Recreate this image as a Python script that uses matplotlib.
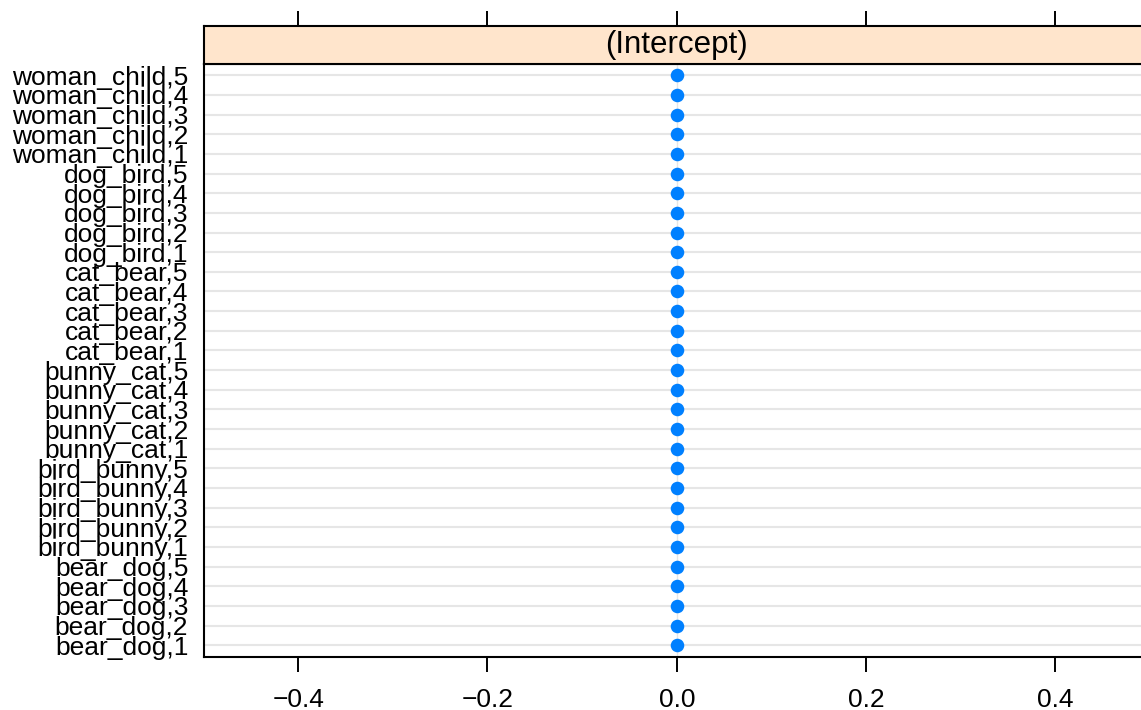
import matplotlib
matplotlib.use("Agg")
import matplotlib.pyplot as plt
from matplotlib.ticker import FuncFormatter

plt.rcParams["font.family"] = ["Liberation Sans", "DejaVu Sans"]

# data: random-effect intercepts, all zero
groups = ["bear_dog", "bird_bunny", "bunny_cat", "cat_bear", "dog_bird", "woman_child"]
levels = [1, 2, 3, 4, 5]
labels = [f"{g},{l}" for g in groups for l in levels]
values = [0.0] * len(labels)
xticks = [-0.4, -0.2, 0.0, 0.2, 0.4]

W, H = 1141, 710
fig = plt.figure(figsize=(W / 100, H / 100), dpi=100)

left, pw = 203.5 / W, 946.5 / W
bot, ph = (H - 657) / H, (657 - 63.5) / H
sh = 37.5 / H

ax = fig.add_axes([left, bot, pw, ph])
ys = list(range(1, len(labels) + 1))
for y in ys:
    ax.axhline(y, color="#e6e6e6", lw=1.5, zorder=1)
ax.axvline(0, color="#e6e6e6", lw=1.0, zorder=1)
ax.scatter(values, ys, s=95, color="#0080ff", zorder=3, linewidths=0)
ax.set_xlim(-0.5, 0.5)
ax.set_ylim(0.4, len(labels) + 0.6)
ax.set_yticks(ys)
ax.set_yticklabels(labels, fontsize=19)
ax.tick_params(axis="y", length=0, pad=11)
ax.set_xticks(xticks)
ax.xaxis.set_major_formatter(FuncFormatter(lambda v, p: f"{v:.1f}".replace("-", "\u2212")))
ax.tick_params(axis="x", length=11, width=1.4, labelsize=19, pad=11)
for s in ax.spines.values():
    s.set_linewidth(1.5)

# strip
sax = fig.add_axes([left, bot + ph, pw, sh], sharex=ax)
sax.set_facecolor("#ffe5cc")
sax.text(0.0, 0.5, "(Intercept)", ha="center", va="center", fontsize=22.5,
         transform=sax.get_xaxis_transform())
sax.set_yticks([])
sax.xaxis.tick_top()
sax.tick_params(axis="x", length=11, width=1.4, labeltop=False, labelbottom=False)
for s in sax.spines.values():
    s.set_linewidth(1.5)

fig.savefig("out.png", dpi=100)
